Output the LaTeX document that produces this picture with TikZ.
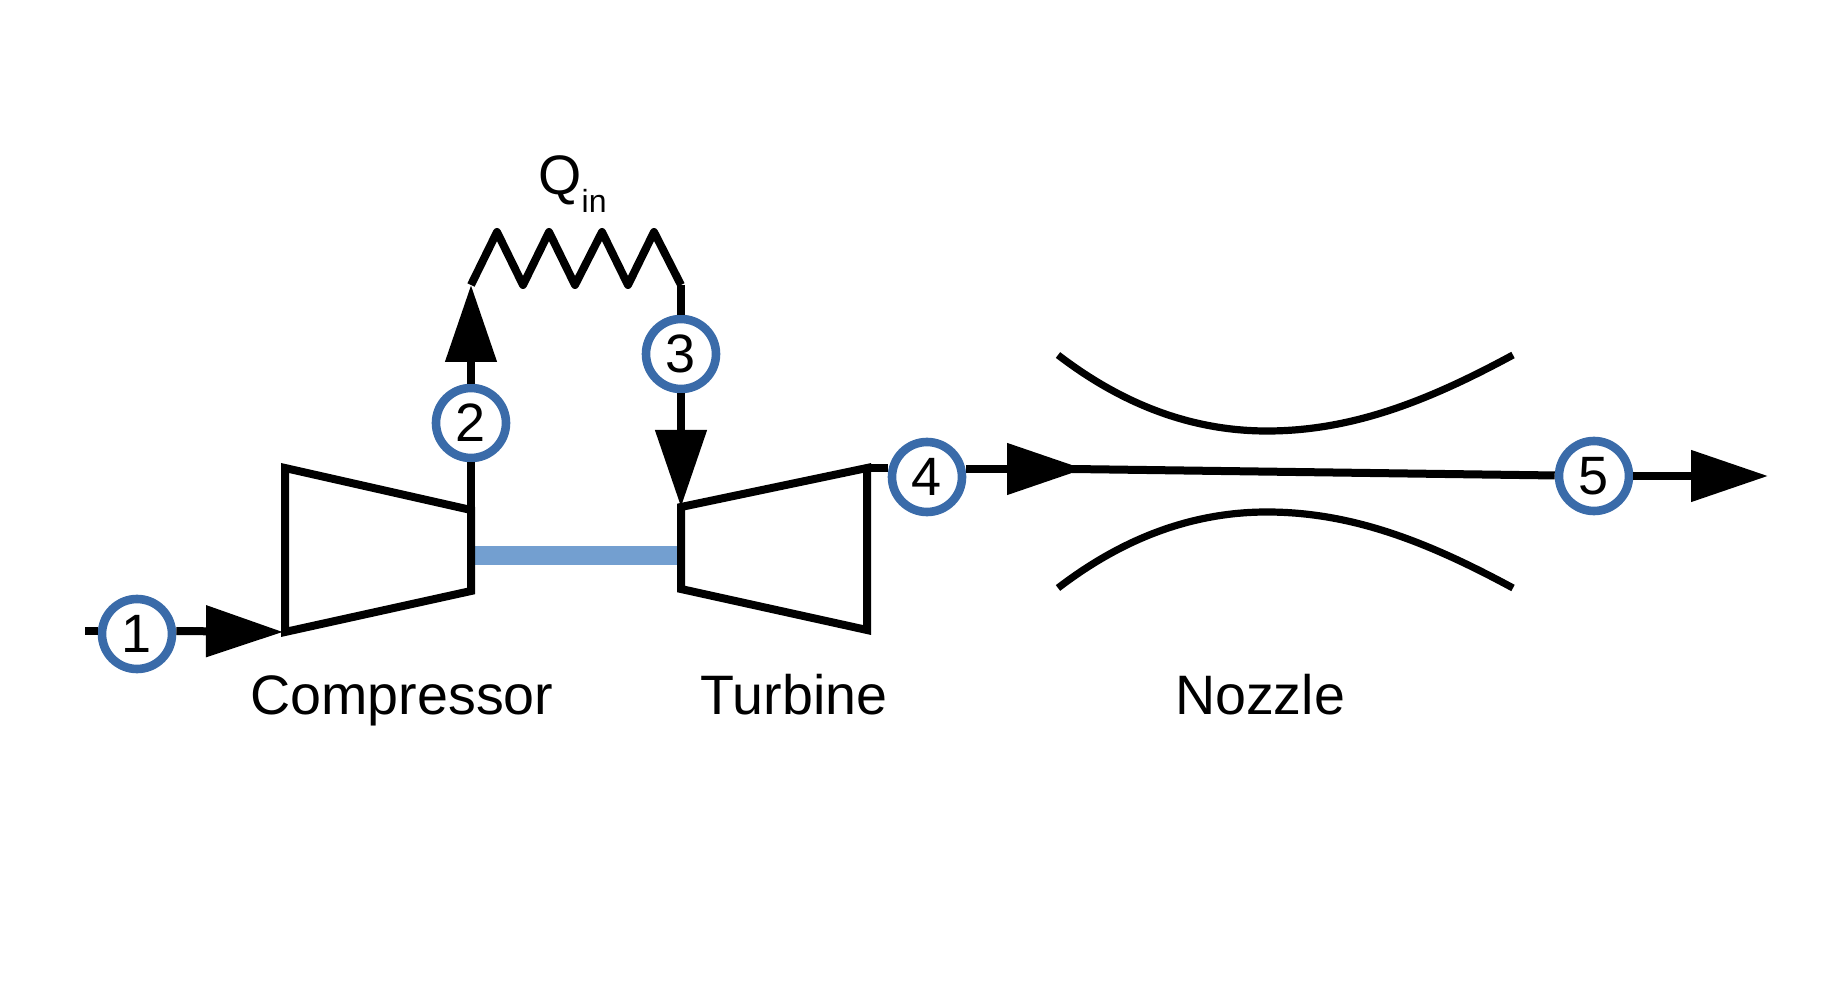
\documentclass[tikz,border=0pt]{standalone}
\usepackage{fontspec}
\setmainfont{Liberation Sans}
\usepackage{xcolor}
\usetikzlibrary{arrows.meta}
\definecolor{ringblue}{HTML}{3A6BA9}
\definecolor{shaftblue}{HTML}{739FD0}
\tikzstyle{station} = [circle, draw=ringblue, line width=4.3pt, fill=white, minimum size=35pt, inner sep=0, font=\fontsize{27}{29}\selectfont]
\tikzstyle{label} = [inner sep=0, anchor=base, font=\fontsize{27.8}{30}\selectfont]
\tikzstyle{wall} = [draw, line width=4pt, line join=miter]
\tikzstyle{coil} = [draw, line width=4pt, line join=round]
\tikzstyle{plain} = [draw, line width=4pt]
\tikzstyle{throat} = [draw, line width=3.6pt]
\tikzstyle{line} = [draw, line width=4pt, -{Triangle[length=38.5pt,width=25pt]}]
\tikzstyle{shaft} = [draw=shaftblue, line width=9.5pt]

\begin{document}
\begin{tikzpicture}[x=0.5pt, y=-0.5pt]
\useasboundingbox (0,0) rectangle (1833,1000);

\coordinate (in) at (85,631);
\coordinate (cmpa) at (285,468);
\coordinate (cmpb) at (471,510);
\coordinate (cmpc) at (471,591);
\coordinate (cmpd) at (285,632);
\coordinate (hl) at (471,285);
\coordinate (hr) at (681,285);
\coordinate (trba) at (681,507);
\coordinate (trbb) at (867,468);
\coordinate (trbc) at (867,630);
\coordinate (trbd) at (681,589);
\coordinate (sl) at (471,555);
\coordinate (sr) at (681,555);
\coordinate (noz) at (1084,469);
\coordinate (out) at (1768,476);

\node [station] (n1) at (137,634) {1};
\node [station] (n2) at (471,423) {2};
\node [station] (n3) at (681,354) {3};
\node [station] (n4) at (927,477) {4};
\node [station] (n5) at (1594,476) {5};

\node [label] (cmp) at (402,714) {Compressor};
\node [label] (trb) at (794,714) {Turbine};
\node [label] (nzl) at (1260,714) {Nozzle};
\node [label, anchor=base west] (qin) at (538,195) {Q\raisebox{-9pt}{\fontsize{16}{16}\selectfont in}};

\path [shaft] (sl) -- (sr);
\path [wall] (cmpa) -- (cmpb) -- (cmpc) -- (cmpd) -- cycle;
\path [wall] (trba) -- (trbb) -- (trbc) -- (trbd) -- cycle;

% heat addition
\path [coil] (hl) -- ++(26,-53) -- ++(26,53) -- ++(26,-53) -- ++(26,53) -- ++(27,-53) -- ++(26,53) -- ++(26,-53) -- (hr);

\path [plain] (in) -- (in -| n1.west);
\path [line, shorten >=1pt] (n1.east |- in) -- (cmpd);
\path [plain] (cmpb) -- (n2);
\path [line] (n2) -- (hl);
\path [plain] (hr) -- (n3);
\path [line] (n3) -- (trba);
\path [plain] (trbb) -- (trbb -| n4.west);
\path [line] (n4.east |- noz) -- (noz);
\path [plain] ([xshift=-6pt]noz) -- (n5);
\path [line] (n5) -- (out);

% nozzle walls
\coordinate (nta) at (1058,355);
\coordinate (ntm) at (1267,431);
\coordinate (ntb) at (1513,355);
\coordinate (nba) at (1058,588);
\coordinate (nbm) at (1267,512);
\coordinate (nbb) at (1513,588);
\path [throat] (nta) .. controls (1118,401) and (1187,431) .. (ntm) .. controls (1352,431) and (1428,401) .. (ntb);
\path [throat] (nba) .. controls (1118,542) and (1187,512) .. (nbm) .. controls (1352,512) and (1428,542) .. (nbb);

\end{tikzpicture}
\end{document}
